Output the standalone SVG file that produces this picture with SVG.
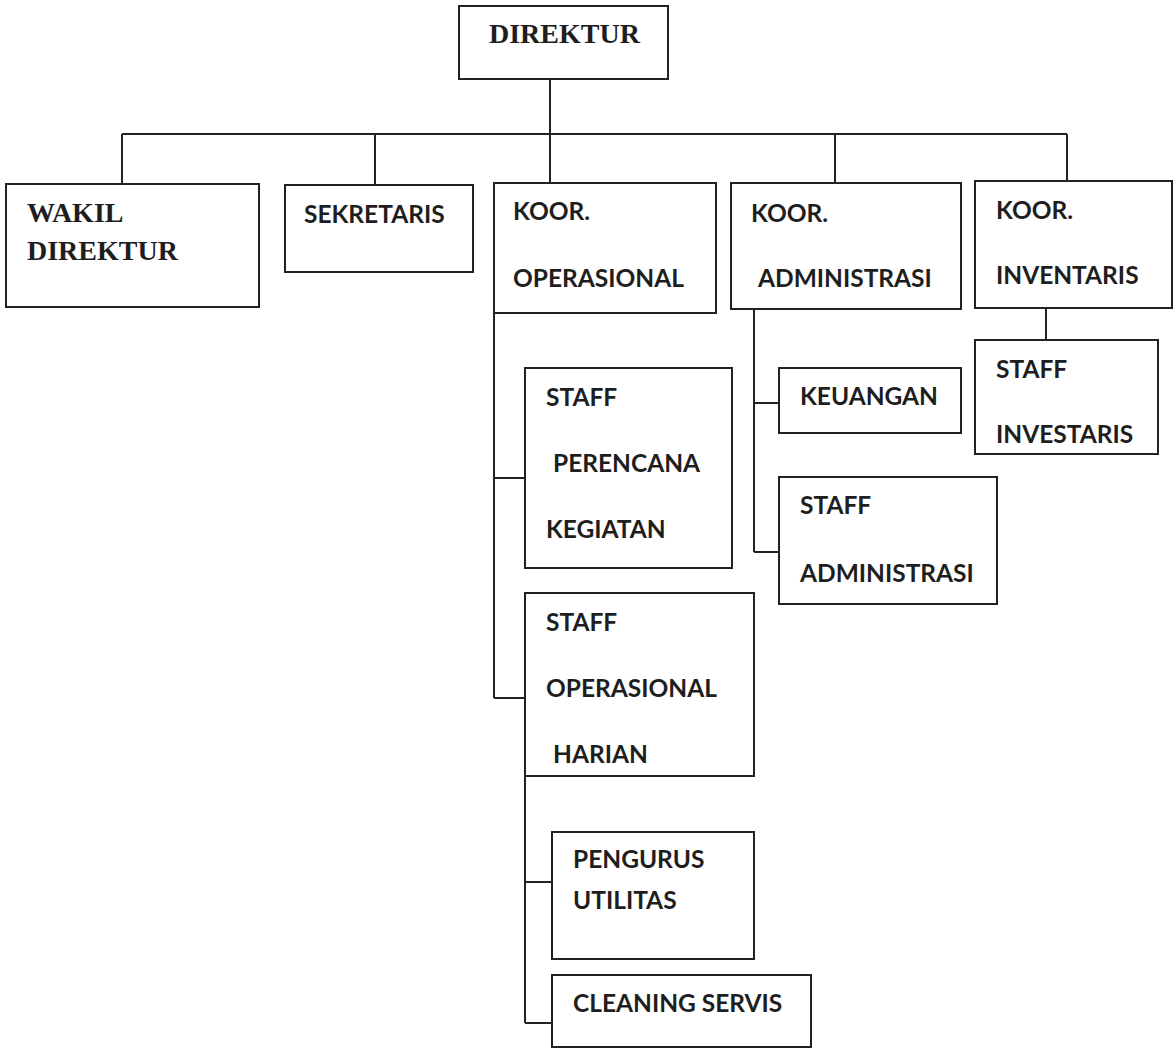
<svg xmlns="http://www.w3.org/2000/svg" width="1175" height="1049" viewBox="0 0 1175 1049">
<style>
.box{fill:#fff;stroke:#222;stroke-width:2}
.ln{fill:none;stroke:#222;stroke-width:2}
.s{font-family:Lato,"Open Sans","Liberation Sans",sans-serif;font-weight:bold;font-size:24.5px;fill:#1e1e1e}
.t{font-family:"Liberation Serif","Times New Roman",serif;font-weight:bold;font-size:28px;fill:#1e1e1e}
</style>
<rect width="1175" height="1049" fill="#fff"/>
<g id="connectors">
<path class="ln" d="M550 79V183M122 134H1067M122 134V184M375 134V185M835 134V183M1067 134V181"/>
<path class="ln" d="M494 313V698M494 478H525M494 698H525"/>
<path class="ln" d="M525 776V1023M525 882H552M525 1023H552"/>
<path class="ln" d="M754 309V552M754 403H787M754 552H779"/>
<path class="ln" d="M1046 308V340"/>
</g>
<g id="direktur"><rect class="box" x="459" y="6" width="209" height="73"/><text class="t" x="489" y="43">DIREKTUR</text></g>
<g id="wakil-direktur"><rect class="box" x="6" y="184" width="253" height="123"/><text class="t" x="27" y="222">WAKIL</text><text class="t" x="27" y="260">DIREKTUR</text></g>
<g id="sekretaris"><rect class="box" x="285" y="185" width="188" height="87"/><text class="s" x="304" y="223">SEKRETARIS</text></g>
<g id="koor-operasional"><rect class="box" x="494" y="183" width="222" height="130"/><text class="s" x="513" y="220">KOOR.</text><text class="s" x="513" y="287">OPERASIONAL</text></g>
<g id="koor-administrasi"><rect class="box" x="731" y="183" width="230" height="126"/><text class="s" x="751" y="222">KOOR.</text><text class="s" x="758" y="287">ADMINISTRASI</text></g>
<g id="koor-inventaris"><rect class="box" x="975" y="181" width="197" height="127"/><text class="s" x="996" y="219">KOOR.</text><text class="s" x="996" y="284">INVENTARIS</text></g>
<g id="staff-investaris"><rect class="box" x="975" y="340" width="183" height="114"/><text class="s" x="996" y="378">STAFF</text><text class="s" x="996" y="443">INVESTARIS</text></g>
<g id="keuangan"><rect class="box" x="779" y="368" width="182" height="65"/><text class="s" x="800" y="405">KEUANGAN</text></g>
<g id="staff-administrasi"><rect class="box" x="779" y="477" width="218" height="127"/><text class="s" x="800" y="514">STAFF</text><text class="s" x="800" y="582">ADMINISTRASI</text></g>
<g id="staff-perencana-kegiatan"><rect class="box" x="525" y="368" width="207" height="200"/><text class="s" x="546" y="406">STAFF</text><text class="s" x="553" y="472">PERENCANA</text><text class="s" x="546" y="538">KEGIATAN</text></g>
<g id="staff-operasional-harian"><rect class="box" x="525" y="593" width="229" height="183"/><text class="s" x="546" y="631">STAFF</text><text class="s" x="546" y="697">OPERASIONAL</text><text class="s" x="553" y="763">HARIAN</text></g>
<g id="pengurus-utilitas"><rect class="box" x="552" y="832" width="202" height="127"/><text class="s" x="573" y="868">PENGURUS</text><text class="s" x="573" y="909">UTILITAS</text></g>
<g id="cleaning-servis"><rect class="box" x="552" y="975" width="259" height="72"/><text class="s" x="573" y="1012">CLEANING SERVIS</text></g>
</svg>
